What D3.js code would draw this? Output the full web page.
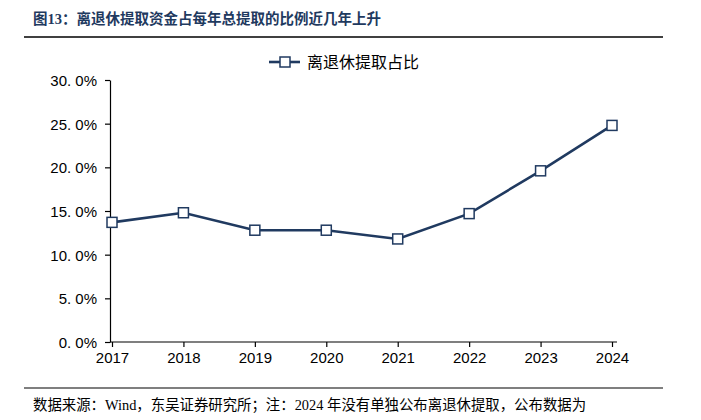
<!DOCTYPE html>
<html><head><meta charset="utf-8">
<script src="https://cdn.jsdelivr.net/npm/d3@7"></script>
<style>body{margin:0;background:#fff}svg{display:block}</style>
</head><body>
<script>
const years = ["2017","2018","2019","2020","2021","2022","2023","2024"];
const shareValues = [13.7, 14.8, 12.8, 12.8, 11.8, 14.7, 19.6, 24.8];
const yTicks = [0, 5, 10, 15, 20, 25, 30];
const titleText = "图13：离退休提取资金占每年总提取的比例近几年上升";
const legendText = "离退休提取占比";
const footerText = "数据来源：Wind，东吴证券研究所；注：2024 年没有单独公布离退休提取，公布数据为";

const W = 701, H = 420;
const navy = "#203a60";
const serifCJK = "'Liberation Serif', 'Noto Sans CJK SC', serif";
const sansLatin = "'Liberation Sans', Arial, sans-serif";
const svg = d3.select("body").append("svg").attr("width", W).attr("height", H);

// title
svg.append("text").attr("x", 33).attr("y", 24)
  .attr("font-family", serifCJK).attr("font-weight", "bold")
  .attr("font-size", 14.5).attr("fill", "#1f3a5f").text(titleText);
svg.append("line").attr("x1", 24).attr("x2", 663).attr("y1", 37).attr("y2", 37)
  .attr("stroke", "#000").attr("stroke-width", 1.6);

const x = d3.scalePoint().domain(years).range([112, 612]);
const y = d3.scaleLinear().domain([0, 30]).range([342, 80]);

// y axis
const yAxis = svg.append("g").attr("transform", "translate(110,0)")
  .call(d3.axisLeft(y).tickValues(yTicks).tickSize(5).tickSizeOuter(0)
    .tickFormat(d => d.toFixed(1).replace(".", ". ") + "%"));
yAxis.select(".domain").attr("stroke", "#000").attr("stroke-width", 1.2);
yAxis.selectAll(".tick line").attr("stroke", "#000").attr("stroke-width", 1.2);
yAxis.selectAll("text").attr("font-family", sansLatin)
  .attr("font-size", 15).attr("fill", "#000").attr("x", -13).attr("dy", "0.36em");

// x axis
const xAxis = svg.append("g").attr("transform", "translate(0,342)")
  .call(d3.axisBottom(x).tickSize(5).tickSizeOuter(0));
xAxis.select(".domain").attr("d", "M110,0H617").attr("stroke", "#000").attr("stroke-width", 1.2);
xAxis.selectAll(".tick line").attr("stroke", "#000").attr("stroke-width", 1.2);
xAxis.selectAll("text").attr("font-family", sansLatin)
  .attr("font-size", 15).attr("fill", "#000").attr("y", 10);

// line
const data = years.map((yr, i) => ({yr, v: shareValues[i]}));
svg.append("path").datum(data)
  .attr("fill", "none").attr("stroke", navy).attr("stroke-width", 2.6)
  .attr("d", d3.line().x(d => x(d.yr)).y(d => y(d.v)));
const ms = 10;
svg.selectAll("rect.m").data(data).enter().append("rect").attr("class", "m")
  .attr("x", d => x(d.yr) - ms/2).attr("y", d => y(d.v) - ms/2)
  .attr("width", ms).attr("height", ms)
  .attr("fill", "#fff").attr("stroke", navy).attr("stroke-width", 1.5);

// legend
const lg = svg.append("g").attr("transform", "translate(0,62)");
lg.append("line").attr("x1", 269).attr("x2", 300).attr("y1", 0).attr("y2", 0)
  .attr("stroke", navy).attr("stroke-width", 2.6);
lg.append("rect").attr("x", 285 - ms/2).attr("y", -ms/2).attr("width", ms).attr("height", ms)
  .attr("fill", "#fff").attr("stroke", navy).attr("stroke-width", 1.5);
lg.append("text").attr("x", 307).attr("y", 6)
  .attr("font-family", serifCJK).attr("font-size", 16)
  .attr("fill", "#000").text(legendText);

// footer
svg.append("line").attr("x1", 24).attr("x2", 663).attr("y1", 388).attr("y2", 388)
  .attr("stroke", "#000").attr("stroke-width", 1.2);
svg.append("text").attr("x", 33).attr("y", 410)
  .attr("font-family", serifCJK)
  .attr("font-size", 14.4).attr("fill", "#000").text(footerText);
</script>
</body></html>
